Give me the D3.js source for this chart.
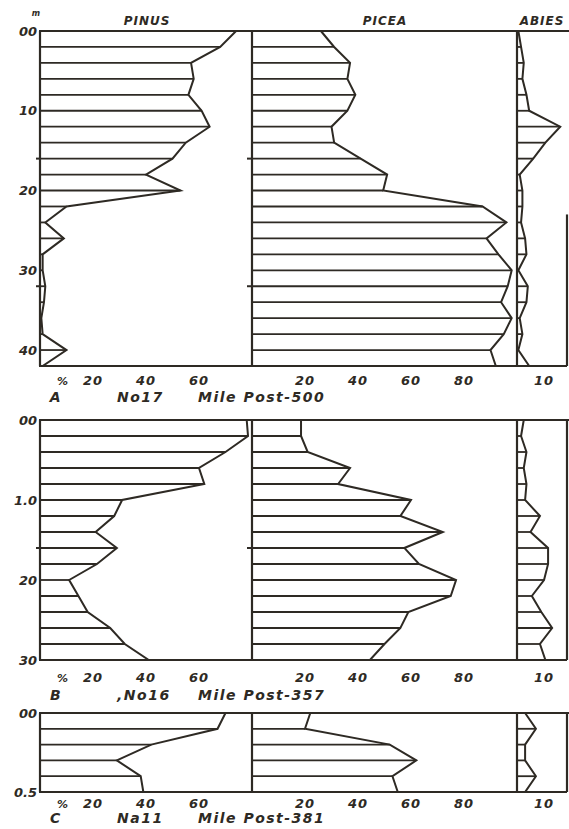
<!DOCTYPE html>
<html>
<head>
<meta charset="utf-8">
<script src="https://cdn.jsdelivr.net/npm/d3@7/dist/d3.min.js"></script>
<style>
  body { margin: 0; background: #fff; }
  text { font-family: "DejaVu Sans", sans-serif; font-style: italic; font-weight: bold; fill: #2e2a24; }
</style>
</head>
<body>
<svg></svg>
<script>
var width = 569, height = 829
var ink = "#2e2a24"

var taxa = ["PINUS", "PICEA", "ABIES"]

// core A, No 17 - depths in m
var depthA = [0, 0.2, 0.4, 0.6, 0.8, 1.0, 1.2, 1.4, 1.6, 1.8, 2.0, 2.2, 2.4, 2.6, 2.8, 3.0, 3.2, 3.4, 3.6, 3.8, 4.0, 4.2]
var pinusA = [74, 68, 57, 58, 56, 61, 64, 55, 50, 40, 53, 10, 2, 9, 1, 1, 2, 1.5, 0.5, 1, 10, 1]
var piceaA = [26, 31, 37, 36, 39, 36, 30, 31, 41, 51, 49.5, 87, 96, 88.5, 93, 98, 96.5, 94, 98, 95, 90, 92]
var abiesA = [0.5, 1.5, 2.5, 2, 3.5, 4.5, 16, 10.5, 6, 1, 2, 2, 1.5, 3, 3.5, 0.5, 4, 3.5, 1, 2, 0.5, 4.5]

// core B, No 16
var depthB = [0, 0.2, 0.4, 0.6, 0.8, 1.0, 1.2, 1.4, 1.6, 1.8, 2.0, 2.2, 2.4, 2.6, 2.8, 3.0]
var pinusB = [78, 78.5, 70, 60, 62, 31, 28, 21, 29, 21.5, 11, 14.5, 18, 26.5, 32, 41]
var piceaB = [18.5, 18.5, 21, 37, 32.5, 60, 56, 72, 57.5, 63, 77, 75, 59, 56, 50, 44.5]
var abiesB = [2.5, 1.5, 3.5, 2.5, 3.5, 3, 8.5, 5, 11.5, 11.5, 10, 5.5, 9, 13, 8.5, 10.5]

// core C, No 11
var depthC = [0, 0.1, 0.2, 0.3, 0.4, 0.5]
var pinusC = [70, 67, 42, 29, 38, 39]
var piceaC = [22, 20, 52, 62, 53, 55]
var abiesC = [3, 7, 3, 3, 7, 3]

var depthTicksA = [0, 1, 2, 3, 4], depthLabelsA = ["00", "10", "20", "30", "40"]
var depthTicksB = [0, 1, 2, 3], depthLabelsB = ["00", "1.0", "20", "30"]
var depthTicksC = [0, 0.5], depthLabelsC = ["00", "0.5"]

var pinusTicks = [20, 40, 60]
var piceaTicks = [20, 40, 60, 80]
var abiesTicks = [10]

var captionsA = ["A", "No17", "Mile Post-500"]
var captionsB = ["B", ",No16", "Mile Post-357"]
var captionsC = ["C", "Na11", "Mile Post-381"]

var left = 40, div1 = 252, div2 = 517, right = 567

var xPinus = d3.scaleLinear().domain([0, 80]).range([left, div1])
var xPicea = d3.scaleLinear().domain([0, 100]).range([div1, div2])
var xAbies = d3.scaleLinear().domain([0, 18.5]).range([div2, right])
var xScales = [xPinus, xPicea, xAbies]

var panels = [
    { depths: depthA, series: [pinusA, piceaA, abiesA], top: 31, bottom: 366, ticks: depthTicksA, labels: depthLabelsA,
      caption: captionsA, rightFrom: 2.3, unit: true, tickDy: 19, capDy: 36, marks: [1.6, 3.2] },
    { depths: depthB, series: [pinusB, piceaB, abiesB], top: 420, bottom: 660, ticks: depthTicksB, labels: depthLabelsB,
      caption: captionsB, rightFrom: 0, tickDy: 22, capDy: 40, marks: [1.6] },
    { depths: depthC, series: [pinusC, piceaC, abiesC], top: 713, bottom: 792, ticks: depthTicksC, labels: depthLabelsC,
      caption: captionsC, rightFrom: 0, tickDy: 16, capDy: 31, marks: [] }
]

var svg = d3.select("svg").attr("width", width).attr("height", height)
svg.append("rect").attr("width", width).attr("height", height).attr("fill", "#fff")

// taxon headers over panel A
svg.selectAll(".taxon")
    .data(taxa)
    .enter()
    .append("text")
    .attr("class", "taxon")
    .attr("x", function(d, i) { return [147, 385, 542][i] })
    .attr("y", 25)
    .attr("text-anchor", "middle")
    .style("font-size", "12px")
    .style("letter-spacing", "1px")
    .text(function(d) { return d })

panels.forEach(function(p) {
    var y = d3.scaleLinear().domain(d3.extent(p.depths)).range([p.top, p.bottom])
    var g = svg.append("g")

    p.series.forEach(function(vals, i) {
        var x = xScales[i]
        var rows = p.depths.map(function(d, j) { return { depth: d, value: vals[j] } })
        var area = d3.area()
            .x0(x(0))
            .x1(function(d) { return x(d.value) })
            .y(function(d) { return y(d.depth) })
        g.append("path")
            .datum(rows)
            .attr("d", area)
            .attr("fill", "#fff")
            .attr("stroke", ink)
            .attr("stroke-width", 2)
        g.selectAll(".hatch" + i)
            .data(rows)
            .enter()
            .append("line")
            .attr("x1", x(0))
            .attr("x2", function(d) { return x(d.value) })
            .attr("y1", function(d) { return y(d.depth) })
            .attr("y2", function(d) { return y(d.depth) })
            .attr("stroke", ink)
            .attr("stroke-width", 1.8)
    })

    // frame
    var frame = [
        [left, p.top, right + 2, p.top],
        [left, p.bottom, right, p.bottom],
        [left, p.top, left, p.bottom],
        [div1, p.top, div1, p.bottom],
        [div2, p.top, div2, p.bottom],
        [right, y(p.rightFrom), right, p.bottom]
    ]
    g.selectAll(".frame")
        .data(frame)
        .enter()
        .append("line")
        .attr("x1", function(d) { return d[0] })
        .attr("y1", function(d) { return d[1] })
        .attr("x2", function(d) { return d[2] })
        .attr("y2", function(d) { return d[3] })
        .attr("stroke", ink)
        .attr("stroke-width", 2.2)

    // small cross marks on the axes
    g.selectAll(".mark")
        .data(p.marks)
        .enter()
        .append("line")
        .attr("x1", left - 4)
        .attr("x2", left)
        .attr("y1", function(d) { return y(d) })
        .attr("y2", function(d) { return y(d) })
        .attr("stroke", ink)
        .attr("stroke-width", 2)
    g.selectAll(".mark2")
        .data(p.marks)
        .enter()
        .append("line")
        .attr("x1", div1 - 5)
        .attr("x2", div1)
        .attr("y1", function(d) { return y(d) })
        .attr("y2", function(d) { return y(d) })
        .attr("stroke", ink)
        .attr("stroke-width", 2)

    // depth labels
    g.selectAll(".depth")
        .data(p.ticks)
        .enter()
        .append("text")
        .attr("x", left - 3)
        .attr("y", function(d) { return y(d) })
        .attr("dy", "0.35em")
        .attr("text-anchor", "end")
        .style("font-size", "13px")
        .text(function(d, i) { return p.labels[i] })

    if (p.unit) {
        g.append("text").attr("x", 36).attr("y", p.top - 15)
            .attr("text-anchor", "middle").style("font-size", "8px").text("m")
    }

    // percentage tick labels
    var tickY = p.bottom + p.tickDy
    var tickSets = [pinusTicks, piceaTicks, abiesTicks]
    tickSets.forEach(function(ticks, i) {
        g.selectAll(".tick" + i)
            .data(ticks)
            .enter()
            .append("text")
            .attr("x", function(d) { return xScales[i](d) })
            .attr("y", tickY)
            .attr("text-anchor", "middle")
            .style("font-size", "13px")
            .style("letter-spacing", "1px")
            .text(function(d) { return d })
    })
    g.append("text").attr("x", xPinus(8.5)).attr("y", tickY)
        .attr("text-anchor", "middle").style("font-size", "11px").text("%")

    // caption
    var capX = [56, 117, 198]
    g.selectAll(".cap")
        .data(p.caption)
        .enter()
        .append("text")
        .attr("x", function(d, i) { return capX[i] })
        .attr("y", p.bottom + p.capDy)
        .attr("text-anchor", function(d, i) { return i == 0 ? "middle" : "start" })
        .style("font-size", "14px")
        .style("letter-spacing", "1.5px")
        .text(function(d) { return d })
})
</script>
</body>
</html>
